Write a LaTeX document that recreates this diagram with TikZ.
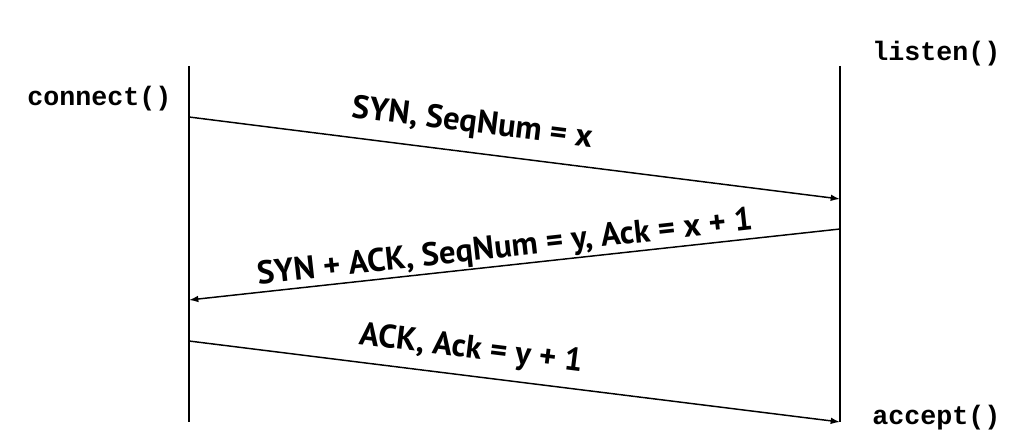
\documentclass[tikz,border=0pt]{standalone}
\usepackage{fontspec}
\setmainfont{PT Sans}
\newfontfamily\codefont{Liberation Mono}
\begin{document}
\begin{tikzpicture}[x=0.75pt,y=-0.75pt,
  lifeline/.style={line width=1.1pt},
  msg/.style={line width=1.1pt,-{Latex[length=7pt,width=5pt]}},
  msglabel/.style={font=\fontsize{24.5}{28}\selectfont\bfseries,inner sep=0pt},
  call/.style={font=\codefont\fontsize{20}{22}\selectfont\bfseries,inner sep=0pt,anchor=base west}]
\usetikzlibrary{arrows.meta}
\useasboundingbox (0,0) rectangle (1031,445);
\coordinate (Ltop) at (189,66);
\coordinate (Lbot) at (189,422);
\coordinate (Rtop) at (840,66);
\coordinate (Rbot) at (840,422);
\draw[lifeline] (Ltop) -- (Lbot);
\draw[lifeline] (Rtop) -- (Rbot);
\coordinate (a1s) at (189,117);
\coordinate (a1e) at (840,199);
\coordinate (a2s) at (840,229);
\coordinate (a2e) at (189,300);
\coordinate (a3s) at (189,341);
\coordinate (a3e) at (840,422);
\draw[msg] (a1s) -- (a1e);
\draw[msg] (a2s) -- (a2e);
\draw[msg] (a3s) -- (a3e);
\node[msglabel,rotate=-7.2] (l1) at (472,124) {SYN, SeqNum = x};
\node[msglabel,rotate=6.3] (l2) at (505,249) {SYN + ACK, SeqNum = y, Ack = x + 1};
\node[msglabel,rotate=-7.1] (l3) at (471,350) {ACK, Ack = y + 1};
\node[call] (c1) at (27,106) {connect()};
\node[call] (c2) at (872,61) {listen()};
\node[call] (c3) at (872,424) {accept()};
\end{tikzpicture}
\end{document}
